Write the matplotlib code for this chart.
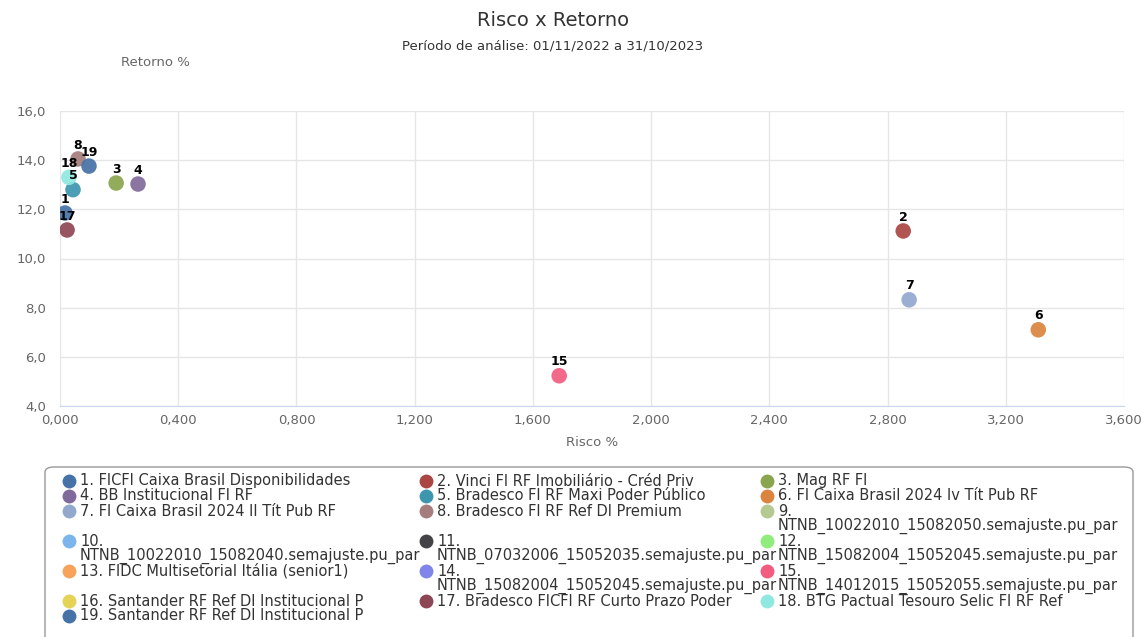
import matplotlib.pyplot as plt
import numpy as np
from matplotlib.patches import FancyBboxPatch
from matplotlib.ticker import FuncFormatter

# fundos (legenda) e coordenadas risco x retorno
nomes = [
    "1. FICFI Caixa Brasil Disponibilidades",
    "2. Vinci FI RF Imobiliário - Créd Priv",
    "3. Mag RF FI",
    "4. BB Institucional FI RF",
    "5. Bradesco FI RF Maxi Poder Público",
    "6. FI Caixa Brasil 2024 Iv Tít Pub RF",
    "7. FI Caixa Brasil 2024 II Tít Pub RF",
    "8. Bradesco FI RF Ref DI Premium",
    "9. NTNB_10022010_15082050.semajuste.pu_par",
    "10. NTNB_10022010_15082040.semajuste.pu_par",
    "11. NTNB_07032006_15052035.semajuste.pu_par",
    "12. NTNB_15082004_15052045.semajuste.pu_par",
    "13. FIDC Multisetorial Itália (senior1)",
    "14. NTNB_15082004_15052045.semajuste.pu_par",
    "15. NTNB_14012015_15052055.semajuste.pu_par",
    "16. Santander RF Ref DI Institucional P",
    "17. Bradesco FICFI RF Curto Prazo Poder",
    "18. BTG Pactual Tesouro Selic FI RF Ref",
    "19. Santander RF Ref DI Institucional P",
]
rotulos = [str(i + 1) for i in range(len(nomes))]
nan = np.nan
risco = [0.017, 2.853, 0.190, 0.264, 0.044, 3.310, 2.873, 0.061, nan, nan,
         nan, nan, nan, nan, 1.689, nan, 0.024, 0.030, 0.098]
retorno = [11.85, 11.12, 13.07, 13.03, 12.80, 7.10, 8.32, 14.05, nan, nan,
           nan, nan, nan, nan, 5.23, nan, 11.16, 13.30, 13.76]
cores = ['#4572A7', '#AA4643', '#89A54E', '#80699B', '#3D96AE', '#DB843D',
         '#92A8CD', '#A47D7C', '#B5CA92', '#7cb5ec', '#434348', '#90ed7d',
         '#f7a35c', '#8085e9', '#f15c80', '#e4d354', '#8d4653', '#91e8e1',
         '#4572A7']

x_ticks = [0, 0.4, 0.8, 1.2, 1.6, 2.0, 2.4, 2.8, 3.2, 3.6]
y_ticks = [4, 6, 8, 10, 12, 14, 16]

W, H = 1142, 637
fig = plt.figure(figsize=(W / 100, H / 100), dpi=100)
fig.patch.set_facecolor('white')


def fx(x):
    return x / W


def fy(y):
    return 1 - y / H


ax = fig.add_axes([fx(60), fy(406), (1124 - 60) / W, (406 - 111) / H])
for i in range(len(nomes)):
    if np.isnan(risco[i]):
        continue
    ax.scatter(risco[i], retorno[i], s=125, color=cores[i], alpha=0.92,
               edgecolors='none', zorder=3)
    ax.annotate(rotulos[i], (risco[i], retorno[i]), xytext=(0, 10),
                textcoords='offset points', ha='center', va='center',
                fontsize=9, fontweight='bold', color='black', zorder=4)

ax.set_xlim(0, 3.6)
ax.set_ylim(4, 16)
ax.set_xticks(x_ticks)
ax.set_yticks(y_ticks)
ax.xaxis.set_major_formatter(FuncFormatter(lambda v, p: f"{v:.3f}".replace('.', ',')))
ax.yaxis.set_major_formatter(FuncFormatter(lambda v, p: f"{v:.1f}".replace('.', ',')))
ax.tick_params(length=0, labelsize=9.5, labelcolor='#666666')
ax.tick_params(axis='x', pad=6)
ax.tick_params(axis='y', pad=10)
ax.grid(True, color='#e6e6e6', linewidth=1)
ax.set_axisbelow(True)
for s in ['top', 'right', 'left']:
    ax.spines[s].set_visible(False)
ax.spines['bottom'].set_color('#ccd6eb')

fig.text(fx(553), fy(20), "Risco x Retorno", ha='center', va='center',
         fontsize=14, color='#333333')
fig.text(fx(553), fy(46), "Período de análise: 01/11/2022 a 31/10/2023",
         ha='center', va='center', fontsize=9.5, color='#333333')
fig.text(fx(155), fy(62), "Retorno %", ha='center', va='center',
         fontsize=9.5, color='#666666')
fig.text(fx(592), fy(443), "Risco %", ha='center', va='center',
         fontsize=9.5, color='#666666')

# legenda desenhada a mao (grade de 3 colunas)
caixa = FancyBboxPatch((fx(45), fy(660)), (1133 - 45) / W, (660 - 467) / H,
                       boxstyle="round,pad=0,rounding_size=0.008",
                       transform=fig.transFigure, facecolor='white',
                       edgecolor='#999999', linewidth=1, zorder=1)
fig.patches.append(caixa)

renderer = fig.canvas.get_renderer()
texto_x = [80, 437, 778]
larg_col = 335
linha_h = 15
y_atual = 481
fs_leg = 10.5
for r0 in range(0, len(nomes), 3):
    itens = list(range(r0, min(r0 + 3, len(nomes))))
    segundas = []
    n_linhas = 1
    for k, i in enumerate(itens):
        nome = nomes[i]
        t = fig.text(0, 0, nome, fontsize=fs_leg)
        larg = t.get_window_extent(renderer).width
        t.remove()
        if larg > larg_col:
            primeira, resto = nome.split(' ', 1)
            segundas.append((k, resto))
            n_linhas = 2
        else:
            primeira = nome
        fig.text(fx(texto_x[k]), fy(y_atual), primeira, ha='left', va='center',
                 fontsize=fs_leg, color='#333333', zorder=3)
        fig.add_artist(plt.Line2D([fx(texto_x[k] - 11)], [fy(y_atual)],
                                  marker='o', markersize=10, color=cores[i],
                                  markeredgewidth=0, transform=fig.transFigure))
    for k, resto in segundas:
        fig.text(fx(texto_x[k]), fy(y_atual + linha_h), resto, ha='left',
                 va='center', fontsize=fs_leg, color='#333333', zorder=3)
    y_atual += linha_h * n_linhas

fig.savefig("out.png", dpi=100, facecolor='white')
